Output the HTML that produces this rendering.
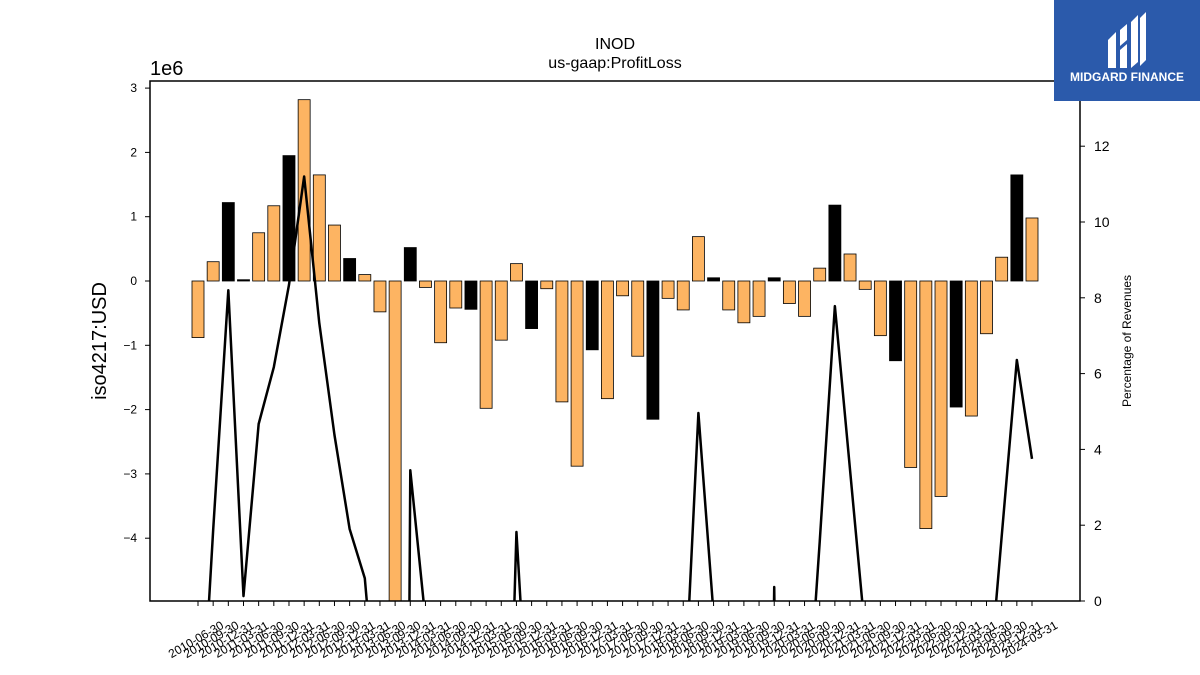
<!DOCTYPE html>
<html><head><meta charset="utf-8"><style>
html,body{margin:0;background:#fff;width:1200px;height:675px;overflow:hidden;}
svg{font-family:"Liberation Sans","DejaVu Sans",sans-serif;display:block}
</style></head><body>
<svg id="chart" width="1200" height="675" viewBox="0 0 1200 675">
<defs><clipPath id="plotclip"><rect x="150" y="81" width="930" height="520"/></clipPath></defs>
<rect width="1200" height="675" fill="#fff"/>
<text x="615" y="49" font-size="16" text-anchor="middle">INOD</text>
<text x="615" y="68" font-size="16" text-anchor="middle">us-gaap:ProfitLoss</text>
<text x="150" y="75" font-size="20">1e6</text>
<text transform="translate(106,341) rotate(-90)" font-size="20" text-anchor="middle">iso4217:USD</text>
<text transform="translate(1131,341) rotate(-90)" font-size="12" text-anchor="middle">Percentage of Revenues</text>
<g id="bars" clip-path="url(#plotclip)"></g>
<g id="lineg" clip-path="url(#plotclip)"></g>
<rect x="150" y="81" width="930" height="520" fill="none" stroke="#000" stroke-width="1.5"/>
<g id="axes"></g>
<g>
<rect x="1054" y="0" width="146" height="101" fill="#2b5aab"/>
<path d="M1108 40 L1116 32 L1116 68 L1108 68 Z M1120 30 L1127 24 L1127 40 L1120 46 Z M1120 50 L1127 44 L1127 68 L1120 68 Z M1131 22 L1138 15 L1138 62 L1131 68 Z M1140 18 L1146 12 L1146 60 L1140 66 Z" fill="#fff"/>
<text x="1127" y="81" font-size="12" font-weight="bold" fill="#fff" text-anchor="middle">MIDGARD FINANCE</text>
</g>
</svg>
<script>
const categories = [];
for (let y = 2010; y <= 2024; y++) for (const q of ["03-31","06-30","09-30","12-31"]) {
  const d = y + "-" + q;
  if (d >= "2010-06-30" && d <= "2024-03-31") categories.push(d);
}
const profitValues = [-0.88,0.3,1.22,0.02,0.75,1.17,1.95,2.82,1.65,0.87,0.35,0.1,-0.48,-5.3,0.52,-0.1,-0.96,-0.42,-0.44,-1.98,-0.92,0.27,-0.74,-0.12,-1.88,-2.88,-1.07,-1.83,-0.23,-1.17,-2.15,-0.27,-0.45,0.69,0.05,-0.45,-0.65,-0.55,0.05,-0.35,-0.55,0.2,1.18,0.42,-0.13,-0.85,-1.24,-2.9,-3.85,-3.35,-1.96,-2.1,-0.82,0.37,1.65,0.98];
const barIsBlack = [0,0,1,1,0,0,1,0,0,0,1,0,0,0,1,0,0,0,1,0,0,0,1,0,0,0,1,0,0,0,1,0,0,0,1,0,0,0,1,0,0,0,1,0,0,0,1,0,0,0,1,0,0,0,1,0];
const pctValues = [-5,1.87,8.2,0.13,4.67,6.17,8.34,11.2,7.33,4.38,1.9,0.6,-4,-60,3.45,-0.5,-20,-20,-20,-20,-12,1.82,-5,-20,-20,-20,-20,-20,-20,-20,-20,-20,-3.3,4.96,-0.35,-20,-20,-30,0.37,-30,-4.3,1.56,7.78,3.46,-0.86,-20,-20,-20,-20,-20,-20,-20,-3,1.7,6.36,3.75];
const leftTicks = [-4,-3,-2,-1,0,1,2,3];
const rightTicks = [0,2,4,6,8,10,12];

const NS = "http://www.w3.org/2000/svg";
const x0 = 198, xStep = (1032 - 198) / 55;
const xPos = i => x0 + xStep * i;
const yL = v => 281 - v * 64.3;
const yR = v => 601 - v * 37.9;
function mk(tag, attrs, parent) { const e = document.createElementNS(NS, tag); for (const k in attrs) e.setAttribute(k, attrs[k]); parent.appendChild(e); return e; }
const bars = document.getElementById("bars"), lineg = document.getElementById("lineg"), axes = document.getElementById("axes");
const bw = 12;
profitValues.forEach((v, i) => {
  const y1 = yL(Math.max(v, 0)), y2 = yL(Math.min(v, 0));
  const r = mk("rect", {x: xPos(i) - bw / 2, y: y1, width: bw, height: Math.max(y2 - y1, 0.5), fill: barIsBlack[i] ? "#000" : "#fdb462", stroke: "#000", "stroke-width": 0.8}, bars);
  
  
});
const pl = mk("polyline", {points: pctValues.map((v, i) => xPos(i) + "," + yR(v)).join(" "), fill: "none", stroke: "#000", "stroke-width": 2.5, "stroke-linejoin": "round"}, lineg);


leftTicks.forEach(t => {
  const y = yL(t);
  const l = mk("line", {x1: 145, x2: 150, y1: y, y2: y, stroke: "#000"}, axes);
  
  
  const tx = mk("text", {x: 137, y: y + 4, "font-size": 12, "text-anchor": "end"}, axes);
  tx.textContent = t < 0 ? "\u2212" + (-t) : String(t);
  
  
});
rightTicks.forEach(t => {
  const y = yR(t);
  const l = mk("line", {x1: 1080, x2: 1085, y1: y, y2: y, stroke: "#000"}, axes);
  
  
  const tx = mk("text", {x: 1094, y: y + 5, "font-size": 14}, axes);
  tx.textContent = String(t);
  
  
});
categories.forEach((c, i) => {
  const x = xPos(i);
  const l = mk("line", {x1: x, x2: x, y1: 601, y2: 606, stroke: "#000"}, axes);
  
  
  const tx = mk("text", {transform: "translate(" + x + ",643) rotate(-30)", "font-size": 12, "text-anchor": "middle"}, axes);
  tx.textContent = c;
  
  
});
</script>
</body></html>
